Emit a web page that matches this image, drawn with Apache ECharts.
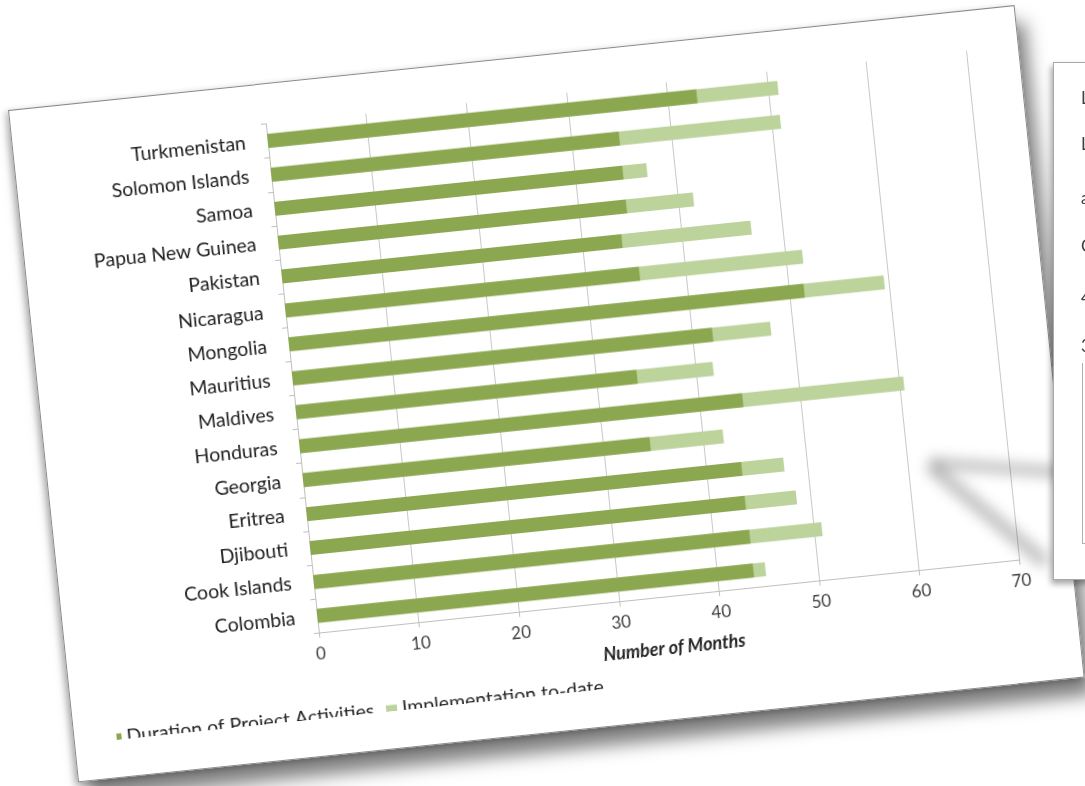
<!DOCTYPE html>
<html>
<head>
<meta charset="utf-8">
<script src="https://cdn.jsdelivr.net/npm/echarts@6/dist/echarts.min.js"></script>
<style>
html,body{margin:0;padding:0;width:1085px;height:786px;overflow:hidden;background:#fff;}
#paper{position:absolute;left:8px;top:110px;width:1012px;height:676px;background:#fff;
  border:1px solid #8a8a8a;box-sizing:border-box;transform-origin:0 0;transform:rotate(-5.95deg);
  box-shadow:8px 18px 18px rgba(0,0,0,0.5),-3px 2px 6px rgba(0,0,0,0.25);z-index:1;}
#clip{position:absolute;left:41.6px;top:0;width:969px;height:637px;overflow:hidden;}
#chart{position:absolute;left:-21.6px;top:0;width:992px;height:680px;}
#panel{position:absolute;left:1053px;top:62px;width:220px;height:516px;background:#fff;
  border:1px solid #a8a8a8;box-shadow:-2px 4px 6px rgba(0,0,0,0.35);z-index:3;
  font-family:Lato,'Open Sans',sans-serif;color:#404040;font-size:17px;}
#panel .t{position:absolute;left:27px;}
#inner{position:absolute;left:28px;top:300px;width:200px;height:180px;border-left:1px solid #b0b0b0;border-bottom:1px solid #b0b0b0;}
.sh{position:absolute;background:rgba(0,0,0,0.28);filter:blur(7px);z-index:2;}
</style>
</head>
<body>
<div id="paper"><div id="clip"><div id="chart"></div></div></div>
<div class="sh" style="left:930px;top:458px;width:150px;height:10px;transform:rotate(4deg);transform-origin:0 0;"></div>
<div class="sh" style="left:935px;top:462px;width:150px;height:12px;transform:rotate(40deg);transform-origin:0 0;"></div>
<div id="panel">
  <div class="t" style="top:24px;">L</div>
  <div class="t" style="top:70px;">Lo</div>
  <div class="t" style="top:124px;">a</div>
  <div class="t" style="top:172px;">C</div>
  <div class="t" style="top:224px;">4</div>
  <div class="t" style="top:272px;">3</div>
  <div id="inner"></div>
</div>
<script>
const categories = ['Colombia','Cook Islands','Djibouti','Eritrea','Georgia','Honduras','Maldives','Mauritius','Mongolia','Nicaragua','Pakistan','Papua New Guinea','Samoa','Solomon Islands','Turkmenistan'];
const durationMonths = [43.6,43.6,43.5,43.5,34.7,44.3,34.1,42.0,51.5,35.4,34.0,34.8,34.8,34.8,42.9];
const implementationMonths = [44.8,50.8,48.6,47.7,42.0,60.4,41.7,47.8,59.5,51.7,46.9,41.5,37.2,50.9,51.0];
const xTicks = [0,10,20,30,40,50,60,70];
const seriesNames = ['Duration of Project Activities','Implementation to-date'];
const axisTitle = 'Number of Months';

const chart = echarts.init(document.getElementById('chart'), null, {renderer:'canvas'});
chart.setOption({
  animation:false,
  textStyle:{fontFamily:'Lato'},
  grid:{left:234,right:53.7,top:39.6,bottom:128.7,containLabel:false},
  xAxis:{
    type:'value',min:xTicks[0],max:xTicks[xTicks.length-1],interval:xTicks[1]-xTicks[0],
    name:axisTitle,nameLocation:'middle',nameGap:43,
    nameTextStyle:{fontStyle:'italic',fontWeight:'bold',fontSize:18,color:'#262626',fontFamily:'Lato'},
    axisLine:{show:true,lineStyle:{color:'#bfbfbf'}},
    axisTick:{show:true,length:5,lineStyle:{color:'#bfbfbf'}},
    axisLabel:{fontSize:17,color:'#404040',margin:13},
    splitLine:{show:true,lineStyle:{color:'#c8c8c8'}}
  },
  yAxis:{
    type:'category',data:categories,
    axisLine:{show:true,lineStyle:{color:'#bfbfbf'}},
    axisTick:{show:true,length:5,lineStyle:{color:'#bfbfbf'}},
    axisLabel:{fontSize:19.5,color:'#1f1f1f',margin:22},
    splitLine:{show:false}
  },
  legend:{
    data:seriesNames,left:11,top:620,itemWidth:11,itemHeight:9,itemGap:12,icon:'rect',
    textStyle:{fontSize:19.5,color:'#262626'}
  },
  series:[
    {name:seriesNames[1],type:'bar',data:implementationMonths,barWidth:14,barGap:'-100%',itemStyle:{color:'#BCD39C'}},
    {name:seriesNames[0],type:'bar',data:durationMonths,barWidth:14,barGap:'-100%',itemStyle:{color:'#8BA851'}}
  ]
});
</script>
</body>
</html>
